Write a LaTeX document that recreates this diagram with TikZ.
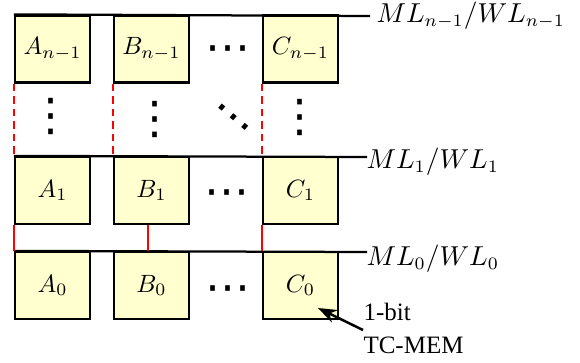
\documentclass[tikz,border=0pt]{standalone}
\usepackage{fontspec}
\newfontfamily\timesfont{Liberation Serif}
\newfontfamily\dotfont{DejaVu Sans}
\usetikzlibrary{arrows.meta}
\definecolor{cellfill}{RGB}{255,255,208}
\begin{document}
\begin{tikzpicture}[x=0.4pt,y=-0.4pt,
  cell/.style={draw=black,line width=0.9pt,fill=cellfill,minimum width=30pt,minimum height=26.8pt,inner sep=0pt},
  wire/.style={line width=0.9pt},
  link/.style={red,line width=0.8pt},
  dlink/.style={red,line width=0.8pt,dash pattern=on 3pt off 2pt},
  ellip/.style={inner sep=0pt,font=\dotfont\fontsize{18}{18}\selectfont},
  lbl/.style={inner sep=0pt,anchor=base west,font=\fontsize{10.5}{12}\selectfont},
  note/.style={inner sep=0pt,anchor=base west,font=\timesfont}]
\useasboundingbox (0,0) rectangle (580,362);
% cells
\node[cell] (A2) at (52.5,49) {$A_{n-1}$};
\node[cell] (B2) at (151.5,49) {$B_{n-1}$};
\node[cell] (C2) at (300.5,49) {$C_{n-1}$};
\node[cell] (A1) at (52.5,190.5) {$A_1$};
\node[cell] (B1) at (151.5,190.5) {$B_1$};
\node[cell] (C1) at (300.5,190.5) {$C_1$};
\node[cell] (A0) at (52.5,285.5) {$A_0$};
\node[cell] (B0) at (151.5,285.5) {$B_0$};
\node[cell] (C0) at (300.5,285.5) {$C_0$};
% line ends
\coordinate (e2) at (370,16);
\coordinate (e1) at (367,157);
\coordinate (e0) at (367,252);
\draw[wire] (A2.north west) -- (e2);
\draw[wire] (A1.north west) -- (e1);
\draw[wire] (A0.north west) -- (e0);
% line labels
\node[lbl] (l2) at (376,22) {$ML_{n-1}/WL_{n-1}$};
\node[lbl] (l1) at (366,168) {$ML_1/WL_1$};
\node[lbl] (l0) at (366,265) {$ML_0/WL_0$};
% red links
\draw[dlink] (A2.south west) -- (A1.north west);
\draw[dlink] (B2.south west) -- (B1.north west);
\draw[dlink] (C2.south west) -- (C1.north west);
\draw[link] (A1.south west) -- (A0.north west);
\draw[link] ([xshift=-1.4pt]B1.south) -- ([xshift=-1.4pt]B0.north);
\draw[link] (C1.south west) -- (C0.north west);
% ellipses
\node[ellip] (h2) at (228,54) {⋯};
\node[ellip] (h1) at (227,198) {⋯};
\node[ellip] (h0) at (228,294) {⋯};
\node[ellip] (va) at (51,116) {⋮};
\node[ellip] (vb) at (155,119.5) {⋮};
\node[ellip] (vc) at (300,117.5) {⋮};
\node[ellip,rotate=-40] (dd) at (230,122) {⋯};
% note
\node[note] (bit) at (363,320) {1-bit};
\node[note] (tc) at (363,353) {TC-MEM};
\coordinate (tail) at (363,330);
\coordinate (tip) at (318,308);
\draw[line width=1pt,-{Stealth[length=7.5pt,width=5.5pt]}] (tail) -- (tip);
\end{tikzpicture}
\end{document}
